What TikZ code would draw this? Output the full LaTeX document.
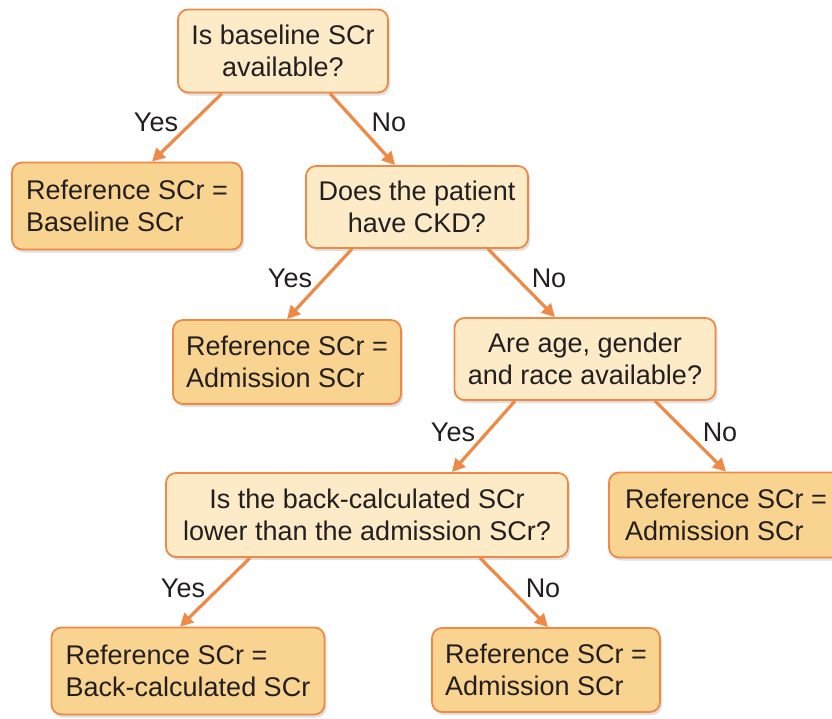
\documentclass[tikz,border=0pt]{standalone}
\usepackage{fontspec}
\setmainfont{Liberation Sans}
\usetikzlibrary{arrows.meta,shadows}
\definecolor{boxline}{HTML}{EE8A45}
\definecolor{qfill}{HTML}{FDEBC8}
\definecolor{leaffill}{HTML}{F9D490}
\definecolor{txt}{HTML}{231F20}

\begin{document}
\begin{tikzpicture}[x=1pt,y=-1pt,
    font=\fontsize{27}{32}\selectfont, text=txt,
    box/.style={draw=boxline, line width=1.8pt, rounded corners=10pt, inner sep=0pt,
      drop shadow={shadow xshift=2pt, shadow yshift=-3pt, opacity=0.25, fill=gray}},
    quest/.style={box, fill=qfill, align=center},
    leaf/.style={box, fill=leaffill, align=left},
    arr/.style={draw=boxline, line width=3.2pt, -{Triangle[length=13pt,width=13pt]}},
    lbl/.style={inner sep=0pt}]
      \useasboundingbox (0,0) rectangle (832,718);
      \node[quest, minimum width=210, minimum height=83] (q1) at (283,51) {Is baseline SCr\\available?};
      \node[leaf, minimum width=230, minimum height=87] (leafa) at (127,206) {Reference SCr =\\Baseline SCr};
      \node[quest, minimum width=222, minimum height=82] (q2) at (417,207) {Does the patient\\have CKD?};
      \node[leaf, minimum width=228, minimum height=84] (leafb) at (287,362) {Reference SCr =\\Admission SCr};
      \node[quest, minimum width=261, minimum height=82] (q3) at (585,359) {Are age, gender\\and race available?};
      \node[quest, minimum width=402, minimum height=84] (q4) at (367,515) {Is the back-calculated SCr\\lower than the admission SCr?};
      \node[leaf, minimum width=234, minimum height=85] (leafc) at (726,515) {Reference SCr =\\Admission SCr};
      \node[leaf, minimum width=273, minimum height=87] (leafd) at (188,671) {Reference SCr =\\Back-calculated SCr};
      \node[leaf, minimum width=228, minimum height=84] (leafe) at (546,670) {Reference SCr =\\Admission SCr};

      \draw[arr] ([xshift=-61pt]q1.south) -- ([xshift=25pt]leafa.north);
      \draw[arr] ([xshift=47pt]q1.south) -- ([xshift=-22pt]q2.north);
      \draw[arr] ([xshift=-65pt]q2.south) -- (leafb.north);
      \draw[arr] ([xshift=71pt]q2.south) -- ([xshift=-30pt]q3.north);
      \draw[arr] ([xshift=-70pt]q3.south) -- ([xshift=85pt]q4.north);
      \draw[arr] ([xshift=70pt]q3.south) -- (leafc.north);
      \draw[arr] ([xshift=-117pt]q4.south) -- ([xshift=-8pt]leafd.north);
      \draw[arr] ([xshift=113pt]q4.south) -- ([xshift=2pt]leafe.north);

      \node[lbl] (y1) at (156,122) {Yes};
      \node[lbl] (n1) at (389,122) {No};
      \node[lbl] (y2) at (290,278) {Yes};
      \node[lbl] (n2) at (549,278) {No};
      \node[lbl] (y3) at (453,432) {Yes};
      \node[lbl] (n3) at (720,432) {No};
      \node[lbl] (y4) at (183,588) {Yes};
      \node[lbl] (n4) at (543,588) {No};
    \end{tikzpicture}
\end{document}
